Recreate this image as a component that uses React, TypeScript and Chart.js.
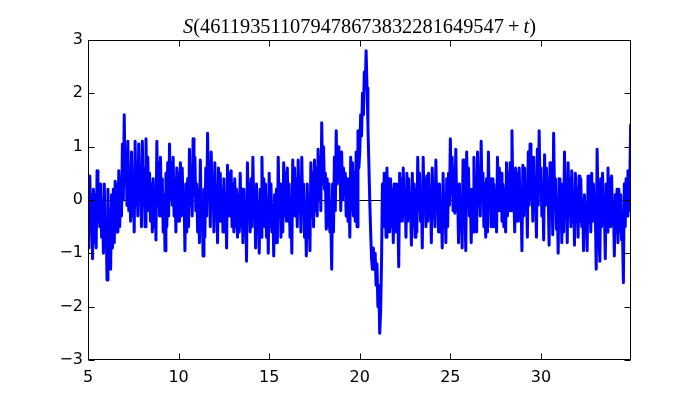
import React, { useEffect, useRef } from "react";
import { Chart, registerables } from "chart.js";

Chart.register(...registerables);

// ---- data ----
const X_START = 5;
const X_STEP = 0.05;
const X_MIN = 5;
const X_MAX = 34.97;
const Y_MIN = -3;
const Y_MAX = 3;
const X_TICKS = [5, 10, 15, 20, 25, 30];
const Y_TICKS = [-3, -2, -1, 0, 1, 2, 3];
const TITLE_NUMBER = "461193511079478673832281649547";

// t = 5.00 .. 14.95 (one row per unit of t)
const S_05_15 = [
  0.45, -0.9, 0.45, -0.4, 0.1, -1.1, 0.2, -0.8, 0.1, -0.9, 0.55, -0.4, 0.2, -0.5, 0.3, -0.7, 0.0, -1.0, 0.3, -0.7,
  -0.4, -1.5, 0.2, -0.9, -0.2, -1.3, 0.1, -0.9, 0.2, -0.8, 0.35, -0.6, 0.3, -0.6, 0.55, -0.5, 0.4, -0.3, 1.05, 0.0,
  1.6, 0.3, 0.9, -0.1, 1.1, -0.2, 0.6, -0.4, 0.9, -0.3, 0.4, -0.6, 1.1, -0.1, 0.7, -0.3, 1.05, 0.0, 0.5, -0.5,
  1.1, -0.1, 0.6, -0.5, 1.15, 0.1, 0.8, -0.2, 0.5, -0.4, 0.3, -0.6, 0.4, -0.5, 0.2, -0.75, 1.1, -0.1, 0.7, -0.3,
  0.8, -0.3, 0.4, -0.6, 0.1, -0.95, 0.5, -0.5, 0.7, -0.3, 1.05, 0.0, 0.7, -0.1, 0.8, -0.3, 0.4, -0.6, 0.6, -0.4,
  0.5, -0.4, 0.7, -0.3, 0.6, -0.2, 0.1, -0.95, 0.3, -0.6, 0.4, -0.5, 0.95, -0.1, 0.6, -0.3, 1.15, 0.1, 0.8, -0.2,
  0.3, -0.6, 0.2, -0.8, 0.75, -0.3, 0.0, -1.05, 0.2, -0.7, 0.6, -0.3, 1.25, 0.2, 0.5, -0.5, 0.9, -0.1, 0.4, -0.6,
  0.7, -0.3, 0.2, -0.8, 0.6, -0.4, 0.5, -0.4, 0.2, -0.6, 0.4, -0.6, 0.1, -0.9, 0.65, -0.3, 0.5, -0.3, 0.55, -0.5,
  0.3, -0.6, 0.4, -0.5, 0.2, -0.7, 0.1, -0.6, 0.5, -0.5, 0.2, -0.8, 0.2, -0.6, -0.1, -1.15, 0.7, -0.3, 0.3, -0.6,
  0.4, -0.5, 0.8, -0.2, 0.1, -0.9, 0.3, -0.6, -0.1, -1.0, 0.2, -0.7, 0.8, -0.2, 0.4, -0.5, 0.3, -0.7, 0.0, -1.0,
];

// t = 15.00 .. 24.95
const S_15_25 = [
  0.5, -0.5, 0.3, -0.6, -0.1, -1.05, 0.1, -0.8, 0.2, -0.8, 0.8, -0.2, 0.3, -0.7, 0.2, -0.6, 0.7, -0.3, 0.5, -0.4,
  0.6, -0.4, 0.3, -0.7, 0.0, -1.0, 0.75, -0.3, 0.6, -0.3, 0.4, -0.5, 0.75, -0.2, 0.4, -0.6, 0.8, -0.2, 0.3, -0.7,
  -0.1, -1.05, 0.3, -0.7, 0.0, -0.95, 0.7, -0.3, 0.5, -0.5, 0.75, -0.2, 0.6, -0.3, 0.95, 0.0, 0.8, -0.2, 1.45, 0.3,
  1.0, 0.2, 0.5, -0.55, 0.4, -0.5, 0.3, -0.6, -0.3, -1.3, 0.3, -0.6, 0.8, -0.2, 1.3, 0.3, 1.0, 0.4, 0.9, -0.2,
  0.9, 0.0, 0.6, 0.1, 0.5, -0.3, 0.4, -0.4, 0.3, -0.7, 0.8, -0.2, 0.7, -0.3, 0.5, -0.4, 0.9, -0.5, 1.3, 0.6,
  0.9, 1.6, 1.2, 2.0, 1.6, 2.4, 2.1, 2.8, 2.1, 1.4, 0.7, 0.0, -0.6, -1.1, -1.3, -0.9, -1.3, -1.0, -1.6, -1.2,
  -2.0, -1.6, -2.5, -2.1, -1.2, 0.3, -0.5, 0.5, 0.3, -0.7, 0.6, -0.4, 0.4, -0.6, 0.4, -0.5, 0.2, -0.8, 0.3, -0.6,
  0.3, -0.6, -0.2, -1.25, 0.5, -0.4, 0.4, -0.4, 0.6, -0.3, 0.2, -0.7, 0.5, -0.4, 0.4, -0.3, 0.0, -0.85, 0.5, -0.5,
  0.3, -0.7, 0.2, -0.6, 0.8, -0.2, 0.5, -0.4, 0.1, -0.9, 0.8, -0.2, 0.4, -0.5, 0.45, -0.4, 0.5, -0.3, 0.2, -0.8,
  0.6, -0.3, 0.2, -0.5, 0.75, -0.2, 0.3, -0.6, 0.3, -0.6, 0.0, -0.9, 0.5, -0.5, 0.1, -0.8, 0.4, -0.5, 0.5, -0.1,
];

// t = 25.00 .. 34.95
const S_25_35 = [
  1.15, 0.1, 0.8, -0.2, 0.6, -0.25, 0.95, -0.1, 0.2, -0.8, 0.3, -0.6, 0.0, -0.9, 0.75, -0.3, 0.0, -0.95, 0.9, -0.1,
  0.6, -0.3, 0.2, -0.8, 0.2, -0.6, 0.8, -0.2, 0.4, -0.6, 0.9, -0.1, 0.6, -0.3, 1.1, 0.0, 0.5, -0.5, 0.3, -0.7,
  0.4, -0.6, 0.9, -0.1, 0.4, -0.5, 0.4, -0.5, 0.3, -0.5, 0.2, -0.6, 0.8, -0.2, 0.6, -0.2, 0.5, -0.4, 0.3, -0.5,
  0.2, -0.6, 0.7, -0.3, 0.5, -0.2, 0.7, -0.2, 1.3, 0.1, 0.3, -0.6, 0.6, -0.4, 0.5, -0.4, 0.6, -0.3, 0.0, -0.95,
  0.65, -0.3, 0.6, -0.2, 0.2, -0.7, 0.9, -0.1, 1.05, 0.0, 0.5, -0.4, 0.8, -0.2, 0.2, -0.7, 0.95, -0.1, 1.3, 0.2,
  0.6, -0.3, 0.2, -0.75, 0.85, -0.1, 0.6, 0.1, 0.1, -0.85, 0.7, -0.3, 0.3, -0.65, 1.25, 0.1, 0.4, -0.55, 0.0, -1.0,
  0.4, -0.5, 0.2, -0.8, 0.3, -0.6, 0.9, -0.1, 0.1, -0.8, 0.7, -0.3, 0.4, -0.5, 0.55, -0.4, 0.1, -0.85, 0.5, -0.4,
  0.2, -0.7, 0.45, -0.4, 0.4, -0.5, 0.0, -0.95, 0.1, -0.6, -0.1, -0.95, 0.45, -0.4, 0.3, -0.6, 0.5, -0.4, 0.3, -0.4,
  -0.2, -1.3, 0.95, -0.1, -0.1, -1.15, 0.4, -0.5, 0.5, -0.3, -0.1, -1.1, 0.3, -0.6, 0.6, -0.3, 0.4, -0.5, 0.45, -0.4,
  -0.1, -1.05, 0.1, -0.6, 0.2, -0.8, 0.2, -0.6, 0.1, -0.75, -0.6, -1.55, 0.3, -0.5, 0.4, -0.3, 0.55, -0.2, 0.2, 1.4,
];

const S_VALUES = [...S_05_15, ...S_15_25, ...S_25_35];

const framePlugin = {
  id: "mplFrame",
  beforeDatasetsDraw(chart: any) {
    const { ctx, chartArea, scales } = chart;
    const y0 = Math.round(scales.y.getPixelForValue(0)) + 0.5;
    ctx.save();
    ctx.strokeStyle = "#000";
    ctx.lineWidth = 1;
    ctx.beginPath();
    ctx.moveTo(chartArea.left, y0);
    ctx.lineTo(chartArea.right, y0);
    ctx.stroke();
    ctx.restore();
  },
  afterDatasetsDraw(chart: any) {
    const { ctx, chartArea, scales } = chart;
    const { left, right, top, bottom } = chartArea;
    const L = Math.round(left) + 0.5;
    const R = Math.round(right) - 0.5;
    const T = Math.round(top) + 0.5;
    const B = Math.round(bottom) - 0.5;
    ctx.save();
    ctx.strokeStyle = "#000";
    ctx.lineWidth = 1;
    ctx.strokeRect(L, T, R - L, B - T);
    const len = 6;
    ctx.beginPath();
    for (const v of X_TICKS) {
      const px = Math.round(scales.x.getPixelForValue(v)) + 0.5;
      ctx.moveTo(px, B);
      ctx.lineTo(px, B - len);
      ctx.moveTo(px, T);
      ctx.lineTo(px, T + len);
    }
    for (const v of Y_TICKS) {
      const py = Math.round(scales.y.getPixelForValue(v)) + 0.5;
      ctx.moveTo(L, py);
      ctx.lineTo(L + len, py);
      ctx.moveTo(R, py);
      ctx.lineTo(R - len, py);
    }
    ctx.stroke();
    ctx.restore();
  },
};

const titlePlugin = {
  id: "mathTitle",
  afterDraw(chart: any) {
    const { ctx, chartArea } = chart;
    const targetWidth = 353;
    const parts = [
      { t: "S", italic: true },
      { t: "(" + TITLE_NUMBER, italic: false },
      { t: "\u2009+\u2009", italic: false },
      { t: "t", italic: true },
      { t: ")", italic: false },
    ];
    const fam = '"Liberation Serif", "DejaVu Serif", serif';
    const measure = (size: number) => {
      let w = 0;
      for (const p of parts) {
        ctx.font = `${p.italic ? "italic " : ""}${size}px ${fam}`;
        w += ctx.measureText(p.t).width;
      }
      return w;
    };
    ctx.save();
    let size = 20;
    const w0 = measure(size);
    size = (size * targetWidth) / w0;
    const total = measure(size);
    const cx = (chartArea.left + chartArea.right) / 2;
    let x = cx - total / 2;
    ctx.fillStyle = "#000";
    ctx.textBaseline = "alphabetic";
    ctx.textAlign = "left";
    for (const p of parts) {
      ctx.font = `${p.italic ? "italic " : ""}${size}px ${fam}`;
      ctx.fillText(p.t, x, 33);
      x += ctx.measureText(p.t).width;
    }
    ctx.restore();
  },
};

export default function App() {
  const canvasRef = useRef<HTMLCanvasElement | null>(null);

  useEffect(() => {
    const canvas = canvasRef.current;
    if (!canvas) return;
    const points = S_VALUES.map((v, i) => ({ x: X_START + i * X_STEP, y: v }));
    const tickFont = { family: '"DejaVu Sans", sans-serif', size: 16 };
    const chart = new Chart(canvas, {
      type: "line",
      data: {
        datasets: [
          {
            data: points,
            borderColor: "#0000ff",
            backgroundColor: "#0000ff",
            borderWidth: 3,
            pointRadius: 0,
            tension: 0,
            fill: false,
            borderJoinStyle: "round",
            borderCapStyle: "round",
          },
        ],
      },
      options: {
        responsive: false,
        animation: false,
        events: [],
        layout: { padding: { left: 0, right: 69, top: 40, bottom: 0 } },
        plugins: {
          legend: { display: false },
          title: { display: false },
          tooltip: { enabled: false },
        },
        scales: {
          x: {
            type: "linear",
            min: X_MIN,
            max: X_MAX,
            grid: { display: false, drawTicks: false },
            border: { display: false },
            afterBuildTicks: (scale: any) => {
              scale.ticks = X_TICKS.map((v) => ({ value: v }));
            },
            afterFit: (scale: any) => {
              scale.height = 40;
            },
            ticks: {
              color: "#000",
              font: tickFont,
              padding: 8,
              maxRotation: 0,
              autoSkip: false,
              callback: (v: any) => String(v),
            },
          },
          y: {
            type: "linear",
            min: Y_MIN,
            max: Y_MAX,
            grid: { display: false, drawTicks: false },
            border: { display: false },
            afterBuildTicks: (scale: any) => {
              scale.ticks = Y_TICKS.map((v) => ({ value: v }));
            },
            afterFit: (scale: any) => {
              scale.width = 88;
            },
            ticks: {
              color: "#000",
              font: tickFont,
              padding: 5,
              callback: (v: any) => String(v).replace("-", "\u2212"),
            },
          },
        },
      },
      plugins: [framePlugin, titlePlugin],
    });
    return () => chart.destroy();
  }, []);

  return (
    <div style={{ position: "fixed", left: 0, top: 0, width: 700, height: 400, background: "#fff" }}>
      <canvas ref={canvasRef} width={700} height={400} style={{ width: 700, height: 400 }} />
    </div>
  );
}
